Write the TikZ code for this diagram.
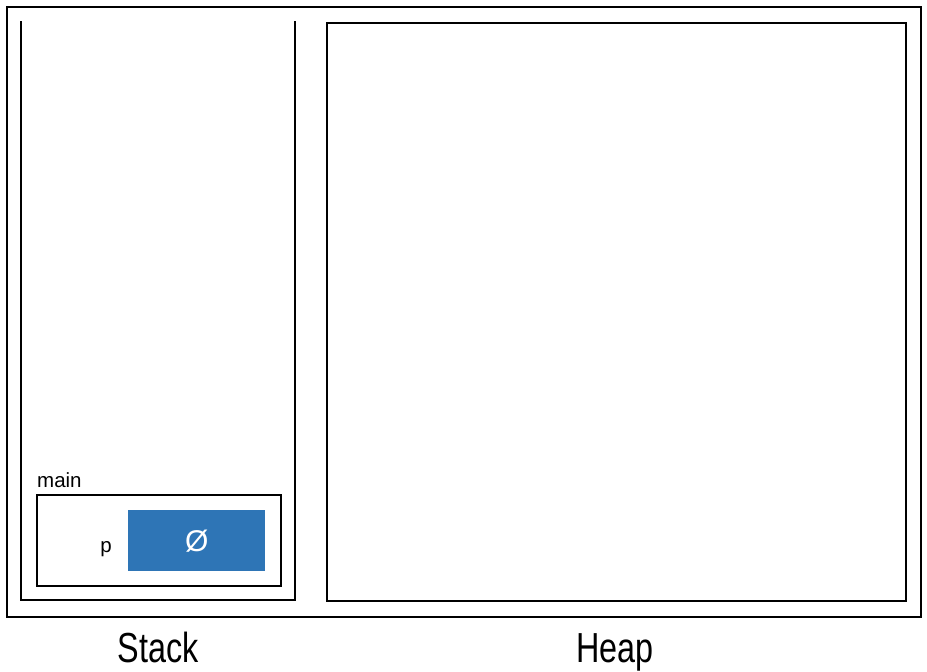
\documentclass[tikz,border=0pt]{standalone}
\usepackage{fontspec}
\setmainfont{Liberation Sans}
\newfontfamily\narrowfont[FakeStretch=0.77]{Liberation Sans}
\definecolor{cellblue}{RGB}{46,117,182}
\begin{document}
\begin{tikzpicture}[x=1pt,y=-1pt,
  frame/.style={draw=black,line width=1.8pt},
  title/.style={font=\narrowfont\fontsize{42}{42}\selectfont,inner sep=0pt},
  small/.style={font=\fontsize{20.5}{20.5}\selectfont,inner sep=0pt}]
\useasboundingbox (0,0) rectangle (927,672);
\node[frame,minimum width=914pt,minimum height=610pt,anchor=north west,inner sep=0pt] (outer) at (6,6) {};
% stack (open top)
\coordinate (stl) at (21,22);
\coordinate (str) at (295,22);
\coordinate (sbl) at (21,600);
\coordinate (sbr) at (295,600);
\draw[frame,line cap=rect] (stl) -- (sbl) -- (sbr) -- (str);
% heap
\node[frame,minimum width=579pt,minimum height=578pt,anchor=north west,inner sep=0pt] (heap) at (326,22) {};
% main frame
\node[small,anchor=base west] (mainlbl) at (37,487) {main};
\node[draw=black,line width=1.5pt,minimum width=244pt,minimum height=91pt,anchor=north west,inner sep=0pt] (mainframe) at (36,494) {};
\node[fill=cellblue,minimum width=137pt,minimum height=61pt,anchor=north west,inner sep=0pt] (pval) at (128,510) {};
\node[font=\fontsize{30}{30}\selectfont,text=white,inner sep=0pt] (null) at (pval.center) {Ø};
\node[small,anchor=base east] (pname) at (112,552) {p};
\node[title,anchor=base] (stack) at (158,662) {Stack};
\node[title,anchor=base] (heapname) at (615,662) {Heap};
\end{tikzpicture}
\end{document}
